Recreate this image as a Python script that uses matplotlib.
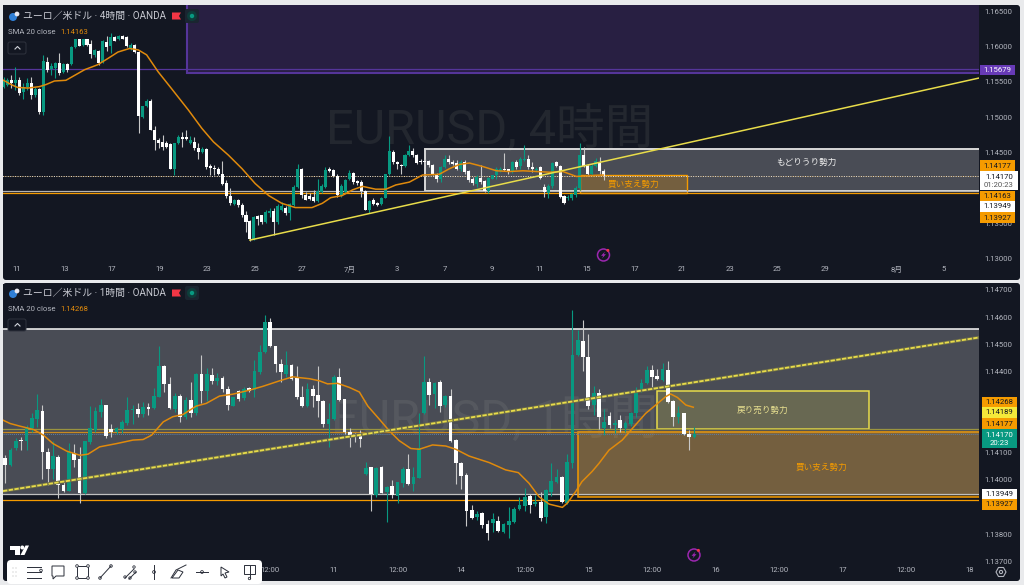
import matplotlib
matplotlib.use('Agg')
import matplotlib.pyplot as plt
from matplotlib.patches import Rectangle, Circle, FancyBboxPatch, Polygon

plt.rcParams['font.family'] = ['Roboto', 'Noto Sans CJK JP', 'DejaVu Sans']

# 4h chart candles
top_open = [1.1542,1.1545,1.1553,1.1548,1.1553,1.1536,1.1542,1.1548,1.1531,1.1539,
    1.1507,1.1578,1.1568,1.1569,1.1577,1.1564,1.1575,1.1575,1.1599,1.1610,
    1.1602,1.1610,1.1603,1.1588,1.1594,1.1578,1.1606,1.1600,1.1613,1.1610,
    1.1615,1.1613,1.1597,1.1602,1.1592,1.1500,1.1515,1.1523,1.1482,1.1468,
    1.1465,1.1464,1.1462,1.1427,1.1463,1.1472,1.1472,1.1464,1.1465,1.1456,
    1.1450,1.1455,1.1431,1.1428,1.1427,1.1420,1.1407,1.1388,1.1377,1.1382,
    1.1375,1.1362,1.1353,1.1327,1.1360,1.1361,1.1352,1.1364,1.1367,1.1352,
    1.1369,1.1372,1.1364,1.1375,1.1401,1.1427,1.1390,1.1389,1.1387,1.1381,
    1.1394,1.1401,1.1426,1.1425,1.1416,1.1390,1.1394,1.1413,1.1421,1.1409,
    1.1408,1.1396,1.1369,1.1382,1.1378,1.1377,1.1386,1.1419,1.1451,1.1437,
    1.1432,1.1431,1.1446,1.1452,1.1446,1.1438,1.1438,1.1438,1.1432,1.1420,
    1.1412,1.1430,1.1441,1.1437,1.1435,1.1426,1.1436,1.1424,1.1412,1.1406,
    1.1414,1.1409,1.1396,1.1413,1.1418,1.1424,1.1426,1.1426,1.1424,1.1436,
    1.1431,1.1439,1.1441,1.1430,1.1425,1.1430,1.1401,1.1393,1.1402,1.1436,
    1.1431,1.1388,1.1385,1.1385,1.1390,1.1399,1.1446,1.1431,1.1420,1.1431,1.1437,1.1424]
top_high = [1.1557,1.1555,1.1559,1.1571,1.1557,1.1548,1.1555,1.1556,1.1543,1.1541,
    1.1588,1.1585,1.1576,1.1578,1.1590,1.1577,1.1577,1.1600,1.1611,1.1611,
    1.1611,1.1611,1.1609,1.1596,1.1595,1.1609,1.1614,1.1619,1.1615,1.1616,
    1.1616,1.1615,1.1605,1.1604,1.1593,1.1516,1.1526,1.1526,1.1487,1.1470,
    1.1474,1.1466,1.1463,1.1464,1.1475,1.1479,1.1481,1.1473,1.1472,1.1463,
    1.1458,1.1456,1.1434,1.1432,1.1430,1.1438,1.1411,1.1399,1.1384,1.1384,
    1.1378,1.1367,1.1354,1.1360,1.1361,1.1362,1.1368,1.1371,1.1371,1.1377,
    1.1380,1.1374,1.1379,1.1404,1.1433,1.1428,1.1394,1.1392,1.1397,1.1413,
    1.1406,1.1430,1.1430,1.1427,1.1420,1.1406,1.1413,1.1425,1.1422,1.1411,
    1.1411,1.1397,1.1382,1.1385,1.1380,1.1387,1.1420,1.1473,1.1454,1.1438,
    1.1434,1.1448,1.1461,1.1456,1.1448,1.1441,1.1440,1.1439,1.1433,1.1421,
    1.1431,1.1446,1.1446,1.1439,1.1439,1.1439,1.1439,1.1425,1.1415,1.1418,
    1.1432,1.1411,1.1415,1.1418,1.1430,1.1429,1.1449,1.1427,1.1438,1.1439,
    1.1444,1.1460,1.1446,1.1437,1.1430,1.1431,1.1406,1.1406,1.1436,1.1438,
    1.1432,1.1390,1.1390,1.1393,1.1402,1.1463,1.1458,1.1434,1.1433,1.1442,1.1443,1.1427]
top_low = [1.1541,1.1544,1.1541,1.1538,1.1531,1.1526,1.1538,1.1526,1.1529,1.1505,
    1.1503,1.1564,1.1559,1.1555,1.1559,1.1562,1.1564,1.1574,1.1597,1.1600,
    1.1601,1.1600,1.1583,1.1585,1.1574,1.1576,1.1593,1.1590,1.1607,1.1609,
    1.1610,1.1599,1.1595,1.1590,1.1478,1.1499,1.1514,1.1481,1.1453,1.1456,
    1.1453,1.1456,1.1427,1.1418,1.1462,1.1458,1.1467,1.1462,1.1453,1.1441,
    1.1449,1.1427,1.1418,1.1418,1.1418,1.1404,1.1385,1.1375,1.1375,1.1373,
    1.1359,1.1338,1.1325,1.1326,1.1347,1.1349,1.1350,1.1359,1.1333,1.1349,
    1.1367,1.1361,1.1354,1.1374,1.1399,1.1385,1.1382,1.1382,1.1380,1.1380,
    1.1393,1.1400,1.1422,1.1415,1.1387,1.1387,1.1392,1.1411,1.1406,1.1404,
    1.1387,1.1368,1.1364,1.1375,1.1374,1.1375,1.1385,1.1418,1.1434,1.1427,
    1.1420,1.1429,1.1445,1.1444,1.1433,1.1433,1.1434,1.1430,1.1418,1.1408,
    1.1408,1.1428,1.1434,1.1432,1.1425,1.1424,1.1420,1.1408,1.1404,1.1401,
    1.1406,1.1394,1.1392,1.1412,1.1413,1.1422,1.1424,1.1420,1.1421,1.1426,
    1.1427,1.1438,1.1427,1.1423,1.1424,1.1412,1.1387,1.1385,1.1400,1.1430,
    1.1385,1.1377,1.1383,1.1382,1.1387,1.1397,1.1429,1.1416,1.1418,1.1430,1.1420,1.1411]
top_close = [1.1552,1.1553,1.1548,1.1552,1.1534,1.1542,1.1548,1.1531,1.1540,1.1507,
    1.1579,1.1567,1.1572,1.1576,1.1562,1.1575,1.1566,1.1599,1.1610,1.1601,
    1.1610,1.1602,1.1589,1.1595,1.1577,1.1607,1.1599,1.1613,1.1608,1.1614,
    1.1611,1.1601,1.1602,1.1592,1.1501,1.1515,1.1523,1.1482,1.1468,1.1464,
    1.1457,1.1458,1.1427,1.1463,1.1472,1.1469,1.1469,1.1467,1.1456,1.1450,
    1.1455,1.1430,1.1428,1.1426,1.1419,1.1406,1.1388,1.1378,1.1382,1.1375,
    1.1362,1.1352,1.1327,1.1359,1.1356,1.1352,1.1366,1.1367,1.1352,1.1374,
    1.1374,1.1364,1.1377,1.1401,1.1427,1.1390,1.1383,1.1384,1.1381,1.1396,
    1.1402,1.1425,1.1424,1.1416,1.1390,1.1402,1.1411,1.1421,1.1408,1.1407,
    1.1396,1.1369,1.1381,1.1377,1.1376,1.1386,1.1419,1.1452,1.1437,1.1434,
    1.1431,1.1446,1.1452,1.1446,1.1435,1.1436,1.1437,1.1432,1.1419,1.1412,
    1.1430,1.1440,1.1437,1.1434,1.1426,1.1437,1.1423,1.1411,1.1407,1.1415,
    1.1408,1.1396,1.1414,1.1418,1.1426,1.1426,1.1425,1.1423,1.1436,1.1429,
    1.1440,1.1441,1.1430,1.1427,1.1427,1.1414,1.1394,1.1403,1.1435,1.1431,
    1.1387,1.1379,1.1387,1.1391,1.1399,1.1446,1.1431,1.1419,1.1431,1.1438,1.1424,1.1417]

# 4h SMA, read at these bar numbers
top_sma_bar = [0,1.9,3.5,6.1,9,10.7,12.8,15.7,17.9,20.4,23.7,26.3,28.8,31.7,33.9,36,38.9,42.3,46.5,49.9,
    52.8,56.6,60,63.3,66.7,70,73.4,77.6,80.2,82.3,85.2,87.8,90.3,93.6,96.2,98.7,102.1,105.4,109.6,
    112.2,114.7,117.2,120.6,124,127.3,130.7,134,137.4,140.7,144.1,150.9]
top_sma = [1.1552,1.1546,1.1542,1.1541,1.1543,1.1546,1.1551,1.1552,1.1559,1.1567,1.1574,1.1583,1.1592,1.1597,1.1595,1.1588,1.1564,1.1540,1.1510,1.1484,
    1.1465,1.1446,1.1427,1.1406,1.1389,1.1378,1.1372,1.1372,1.1378,1.1386,1.1389,1.1397,1.1402,1.1398,1.1398,1.1404,1.1408,1.1418,1.1419,
    1.1427,1.1433,1.1435,1.1430,1.1424,1.1423,1.1424,1.1423,1.1422,1.1423,1.1416,1.1418]

top_tick_bars = [3.4,15.5,27.3,39.4,51.2,63.3,75.1,87.2,99,111.1,122.9,135,146.8,158.9,170.7,182.8,194.6,206.7,224.8,236.4]
top_tick_labels = ['11','13','17','19','23','25','27','7月','3','7','9','11','15','17','21','23','25','29','8月','5']
top_prices = [1.165,1.16,1.155,1.15,1.145,1.135,1.13]

# 1h chart candles
bot_open = [1.14081,1.14054,1.14116,1.14149,1.14143,1.14190,1.14223,1.14255,1.14102,1.14042,
    1.14085,1.13982,1.13960,1.14100,1.14078,1.13952,1.14140,1.14183,1.14252,1.14276,
    1.14188,1.14176,1.14188,1.14210,1.14257,1.14261,1.14242,1.14269,1.14266,1.14306,
    1.14419,1.14353,1.14263,1.14309,1.14233,1.14296,1.14245,1.14391,1.14328,1.14388,
    1.14365,1.14376,1.14336,1.14274,1.14326,1.14301,1.14337,1.14331,1.14398,1.14472,
    1.14582,1.14493,1.14429,1.14392,1.14422,1.14374,1.14304,1.14272,1.14334,1.14313,
    1.14292,1.14206,1.14223,1.14378,1.14297,1.14178,1.14168,1.14162,1.14021,1.14047,
    1.13945,1.14047,1.13954,1.13978,1.13941,1.13990,1.14040,1.13985,1.14008,1.14245,
    1.14360,1.14317,1.14360,1.14275,1.14309,1.14147,1.14064,1.14017,1.13889,1.13862,
    1.13880,1.13838,1.13843,1.13848,1.13808,1.13835,1.13846,1.13892,1.13905,1.13941,
    1.13910,1.13920,1.13862,1.13957,1.13994,1.14012,1.13914,1.14064,1.14460,1.14512,
    1.14452,1.14275,1.14319,1.14190,1.14236,1.14202,1.14221,1.14193,1.14205,1.14245,
    1.14329,1.14356,1.14405,1.14383,1.14368,1.14405,1.14290,1.14233,1.14245,1.14169,1.14157]
bot_high = [1.14091,1.14116,1.14153,1.14159,1.14202,1.14245,1.14316,1.14276,1.14116,1.14144,
    1.14091,1.13999,1.14137,1.14134,1.14122,1.14144,1.14272,1.14269,1.14300,1.14278,
    1.14205,1.14196,1.14220,1.14304,1.14276,1.14285,1.14288,1.14282,1.14337,1.14493,
    1.14423,1.14380,1.14319,1.14316,1.14306,1.14361,1.14395,1.14460,1.14411,1.14414,
    1.14395,1.14382,1.14345,1.14306,1.14331,1.14341,1.14343,1.14441,1.14496,1.14607,
    1.14595,1.14495,1.14444,1.14476,1.14427,1.14419,1.14346,1.14356,1.14350,1.14420,
    1.14295,1.14282,1.14387,1.14411,1.14300,1.14190,1.14174,1.14184,1.14067,1.14049,
    1.14047,1.14053,1.13978,1.14000,1.13994,1.14049,1.14096,1.14049,1.14248,1.14457,
    1.14374,1.14362,1.14368,1.14313,1.14334,1.14150,1.14067,1.14027,1.13908,1.13887,
    1.13883,1.13853,1.13880,1.13867,1.13843,1.13899,1.13899,1.13938,1.13969,1.13948,
    1.13945,1.13957,1.13965,1.14061,1.14039,1.14015,1.14096,1.14626,1.14552,1.14589,
    1.14538,1.14346,1.14334,1.14260,1.14252,1.14221,1.14239,1.14217,1.14252,1.14341,
    1.14371,1.14420,1.14424,1.14408,1.14430,1.14439,1.14295,1.14272,1.14248,1.14184,1.14194]
bot_low = [1.13987,1.14051,1.14112,1.14110,1.14110,1.14177,1.14196,1.14005,1.13981,1.14005,
    1.13932,1.13956,1.13958,1.14048,1.13914,1.13950,1.14134,1.14177,1.14233,1.14153,
    1.14159,1.14169,1.14174,1.14202,1.14208,1.14233,1.14233,1.14239,1.14263,1.14304,
    1.14325,1.14260,1.14251,1.14214,1.14226,1.14233,1.14239,1.14282,1.14291,1.14355,
    1.14349,1.14325,1.14257,1.14272,1.14291,1.14296,1.14325,1.14304,1.14392,1.14468,
    1.14490,1.14398,1.14361,1.14380,1.14368,1.14300,1.14268,1.14270,1.14268,1.14233,
    1.14196,1.14123,1.14221,1.14292,1.14169,1.14120,1.14141,1.14120,1.14018,1.13887,
    1.13938,1.13951,1.13846,1.13932,1.13914,1.13973,1.13981,1.13961,1.14006,1.14243,
    1.14276,1.14264,1.14252,1.14270,1.14141,1.13985,1.13967,1.13830,1.13855,1.13853,
    1.13822,1.13779,1.13810,1.13810,1.13806,1.13786,1.13843,1.13889,1.13887,1.13880,
    1.13904,1.13848,1.13843,1.13941,1.13990,1.13914,1.13911,1.14043,1.14457,1.14403,
    1.14260,1.14239,1.14187,1.14166,1.14190,1.14172,1.14178,1.14178,1.14199,1.14233,
    1.14325,1.14354,1.14338,1.14368,1.14366,1.14285,1.14199,1.14209,1.14167,1.14110,1.14155]
bot_close = [1.14054,1.14112,1.14144,1.14144,1.14196,1.14229,1.14257,1.14102,1.14041,1.14088,
    1.13982,1.13960,1.14104,1.14073,1.13952,1.14143,1.14190,1.14255,1.14277,1.14161,
    1.14176,1.14191,1.14215,1.14257,1.14263,1.14242,1.14269,1.14263,1.14309,1.14419,
    1.14355,1.14266,1.14311,1.14233,1.14296,1.14247,1.14392,1.14326,1.14390,1.14365,
    1.14375,1.14336,1.14276,1.14304,1.14299,1.14336,1.14328,1.14402,1.14472,1.14582,
    1.14493,1.14427,1.14397,1.14423,1.14373,1.14304,1.14272,1.14334,1.14309,1.14291,
    1.14205,1.14223,1.14378,1.14295,1.14178,1.14163,1.14159,1.14150,1.14045,1.13947,
    1.14045,1.13953,1.13975,1.13943,1.13991,1.14039,1.13985,1.14011,1.14116,1.14360,
    1.14313,1.14356,1.14272,1.14309,1.14145,1.14064,1.14016,1.13887,1.13861,1.13875,
    1.13833,1.13803,1.13855,1.13812,1.13838,1.13850,1.13893,1.13908,1.13936,1.13909,
    1.13920,1.13861,1.13963,1.13995,1.14010,1.13918,1.14066,1.14460,1.14516,1.14452,
    1.14272,1.14319,1.14233,1.14215,1.14202,1.14209,1.14193,1.14209,1.14248,1.14331,
    1.14358,1.14405,1.14381,1.14371,1.14408,1.14288,1.14233,1.14245,1.14169,1.14157,1.14170]

# 1h SMA, read at these bar numbers
bot_sma_bar = [-0.4,0.9,2.8,5.3,7.2,9,11.6,14.1,15.6,17.8,21,24.1,26,27.6,29.8,31.6,33.5,36,37.9,40.4,42.9,46.1,48.6,51.7,54.2,55.5,
    57.4,59.3,60.8,62.7,64.9,66.8,68.4,70.6,72.4,74.3,76.5,78.1,80.6,83.1,85,87.5,91.3,94.4,96.8,98.8,100.7,102.6,105.1,106,107.6,108.8,110.7,112,
    113.9,116.4,118.9,120.8,122.7,124.6,125.5,126.8,128.4,129.8]
bot_sma = [1.14220,1.14208,1.14198,1.14186,1.14165,1.14134,1.14106,1.14091,1.14095,1.14122,1.14134,1.14147,1.14149,1.14165,1.14214,1.14233,1.14241,1.14272,1.14282,1.14309,1.14316,1.14331,1.14345,1.14365,1.14380,1.14377,
    1.14373,1.14365,1.14354,1.14356,1.14341,1.14324,1.14272,1.14223,1.14182,1.14145,1.14116,1.14113,1.14129,1.14125,1.14113,1.14088,1.14064,1.14037,1.14027,1.13988,1.13938,1.13911,1.13899,1.13914,1.13957,1.13994,1.14031,1.14061,
    1.14110,1.14147,1.14203,1.14245,1.14276,1.14307,1.14317,1.14304,1.14276,1.14268]

bot_tick_bars = [50,62,74,86,98,110,122,134,146,158,170,182]
bot_tick_labels = ['12:00','11','12:00','14','12:00','15','12:00','16','12:00','17','12:00','18']
bot_prices = [1.147,1.146,1.145,1.144,1.141,1.14,1.138,1.137]

BG = '#131722'
GREEN = '#089981'
ORANGE = '#f59b00'
YELLOW = '#e8dc4a'
TEXT = '#b2b5be'
W, H = 1024, 585

fig = plt.figure(figsize=(W/100, H/100), dpi=100, facecolor='#e9eaec')


def px_axes(x0, y0, x1, y1, z):
    return fig.add_axes([x0/W, 1-y1/H, (x1-x0)/W, (y1-y0)/H], zorder=z)


def candles(ax, op, hi, lo, cl, width):
    for i in range(len(op)):
        up = cl[i] >= op[i]
        ax.vlines(i, lo[i], hi[i], color=GREEN if up else '#c8c8c8', lw=0.8, zorder=3)
        ax.bar(i, abs(cl[i]-op[i]), width, bottom=min(op[i], cl[i]), color=GREEN if up else 'white', lw=0, zorder=4)


def setup_axes(ax, prices, tick_bars, tick_labels):
    ax.set_facecolor(BG)
    for s in ax.spines.values():
        s.set_visible(False)
    ax.yaxis.tick_right()
    ax.set_yticks(prices)
    ax.set_yticklabels(['%.5f' % p for p in prices])
    ax.set_xticks(tick_bars)
    ax.set_xticklabels(tick_labels)
    ax.tick_params(axis='y', length=0, pad=4.2, labelsize=5.6, labelcolor=TEXT)
    ax.tick_params(axis='x', length=0, pad=3.2, labelsize=5.6, labelcolor=TEXT)


# panel backing
bg = px_axes(0, 0, W, H, 0)
bg.set_xlim(0, W)
bg.set_ylim(H, 0)
bg.axis('off')
bg.add_patch(FancyBboxPatch((3, 5), 1017, 275, boxstyle='round,pad=0,rounding_size=3', fc=BG, ec='none'))
bg.add_patch(FancyBboxPatch((3, 283), 1017, 298, boxstyle='round,pad=0,rounding_size=3', fc=BG, ec='none'))

# 4h panel
ax1 = px_axes(3, 5, 979, 262, 1)
setup_axes(ax1, top_prices, top_tick_bars, top_tick_labels)
ax1.set_xlim(-0.13, 245.4)
ax1.set_ylim(1.1295, 1.16585)
ax1.text(122.4, 1.1482, 'EURUSD, 4時間', fontsize=35, color='#23272f', ha='center', va='center', zorder=0.5)
ax1.add_patch(Rectangle((46.2, 1.1562), 200, 0.0100, fc='#281f42', ec='#55359a', lw=1.5, zorder=1))
ax1.hlines(1.15679, -1, 246, color='#55359a', lw=0.9, zorder=1.5)
ax1.add_patch(Rectangle((106, 1.13949), 140, 0.00601, fc='white', alpha=0.23, lw=0, zorder=1))
ax1.add_patch(Rectangle((106, 1.13949), 140, 0.00601, fc='none', ec='#d8d8d8', lw=1.4, zorder=1.4))
ax1.add_patch(Rectangle((145, 1.13927), 27, 0.0025, fc=ORANGE, alpha=0.25, ec='none', zorder=1.2))
ax1.add_patch(Rectangle((145, 1.13927), 27, 0.0025, fc='none', ec=ORANGE, lw=1, zorder=1.5))
ax1.hlines(1.13949, -1, 246, color='#b4b4b4', lw=0.9, zorder=1.6)
ax1.hlines(1.13927, -1, 246, color=ORANGE, lw=0.9, zorder=1.6)
ax1.hlines(1.14163, -1, 246, color='#b87a10', lw=0.5, linestyles=(0, (1, 1.5)), zorder=1.9)
ax1.hlines(1.1417, -1, 246, color='#e0e0e0', lw=0.7, linestyles=(0, (1, 1.5)), zorder=2)
candles(ax1, top_open, top_high, top_low, top_close, 0.76)
ax1.plot(top_sma_bar, top_sma, color='#e08a0c', lw=1.1, zorder=5)
ax1.plot([62, 245.4], [1.1326, 1.15552], color=YELLOW, lw=1.1, zorder=6)
ax1.text(158.5, 1.1405, '買い支え勢力', color=ORANGE, fontsize=6.2, ha='center', va='center', zorder=7)
ax1.text(202, 1.1436, 'もどりうり勢力', color='#f0f0f0', fontsize=6.2, ha='center', va='center', zorder=7)

# 1h panel
ax2 = px_axes(3, 284, 979, 563, 1)
setup_axes(ax2, bot_prices, bot_tick_bars, bot_tick_labels)
ax2.set_xlim(-0.434, 183.7)
ax2.set_ylim(1.13694, 1.14722)
ax2.text(92.4, 1.1422, 'EURUSD, 1時間', fontsize=35, color='#23272f', ha='center', va='center', zorder=0.5)
ax2.add_patch(Rectangle((-1, 1.13949), 186, 0.00607, fc='white', alpha=0.23, lw=0, zorder=1))
ax2.hlines(1.14556, -1, 185, color='#e8e8e8', lw=1.2, zorder=1.4)
ax2.hlines(1.13949, -1, 185, color='#c0c0c0', lw=0.9, zorder=1.4)
ax2.add_patch(Rectangle((108, 1.13936), 78, 0.00241, fc=ORANGE, alpha=0.25, ec='none', zorder=1.2))
ax2.add_patch(Rectangle((108, 1.13936), 78, 0.00241, fc='none', ec=ORANGE, lw=1.1, zorder=1.5))
ax2.add_patch(Rectangle((122.9, 1.14189), 40, 0.00137, fc=YELLOW, alpha=0.2, ec='none', zorder=1.2))
ax2.add_patch(Rectangle((122.9, 1.14189), 40, 0.00137, fc='none', ec=YELLOW, lw=1.1, zorder=1.5))
ax2.hlines(1.14189, -1, 185, color='#9a9440', lw=0.9, zorder=1.6)
ax2.hlines(1.14177, -1, 185, color='#c98a20', lw=0.9, zorder=1.6)
ax2.hlines(1.13927, -1, 185, color=ORANGE, lw=0.9, zorder=1.6)
ax2.hlines(1.1417, -1, 185, color='#5a7fa8', lw=0.7, linestyles=(0, (1, 1)), zorder=1.7)
candles(ax2, bot_open, bot_high, bot_low, bot_close, 0.7)
ax2.plot(bot_sma_bar, bot_sma, color='#e08a0c', lw=1.1, zorder=5)
ax2.plot([-0.434, 183.7], [1.13959, 1.14525], color='#6e6e48', lw=2.4, zorder=6)
ax2.plot([-0.434, 183.7], [1.13959, 1.14525], color=YELLOW, lw=1.3, linestyle=(0, (2.4, 0.8)), zorder=6.5)
ax2.text(154, 1.14048, '買い支え勢力', color=ORANGE, fontsize=6.2, ha='center', va='center', zorder=7)
ax2.text(142.8, 1.14256, '戻り売り勢力', color='#e8e090', fontsize=6.2, ha='center', va='center', zorder=7)

# everything around the plots, in screen pixels
ov = px_axes(0, 0, W, H, 5)
ov.set_xlim(0, W)
ov.set_ylim(H, 0)
ov.axis('off')
ov.patch.set_alpha(0)


def badge(y0, y1, fc, tc, label, sub=None, x0=980, x1=1015, subc=None):
    ov.add_patch(Rectangle((x0, y0), x1-x0, y1-y0, fc=fc, ec='none'))
    if sub is None:
        ov.text((x0+x1)/2, (y0+y1)/2, label, color=tc, fontsize=5.6, ha='center', va='center')
    else:
        ov.text((x0+x1)/2, y0+(y1-y0)*0.3, label, color=tc, fontsize=5.6, ha='center', va='center')
        ov.text((x0+x1)/2, y0+(y1-y0)*0.72, sub, color=subc, fontsize=5.6, ha='center', va='center')


badge(65, 75, '#673ab7', 'white', '1.15679')
badge(160, 171, ORANGE, '#131722', '1.14177')
badge(171, 190, 'white', '#131722', '1.14170', '01:20:23', x1=1018, subc='#555555')
badge(191, 201, ORANGE, '#131722', '1.14163')
badge(201, 212, 'white', '#131722', '1.13949')
badge(212, 223, ORANGE, '#131722', '1.13927')
badge(397, 407, ORANGE, '#131722', '1.14268', x0=982, x1=1017)
badge(407, 418, '#f5e93a', '#131722', '1.14189', x0=982, x1=1017)
badge(418, 429, ORANGE, '#131722', '1.14177', x0=982, x1=1017)
badge(429, 448, GREEN, 'white', '1.14170', '20:23', x0=982, x1=1017, subc='white')
badge(489, 499, 'white', '#131722', '1.13949', x0=982, x1=1017)
badge(499, 510, ORANGE, '#131722', '1.13927', x0=982, x1=1017)


def header(y, name, sma):
    ov.add_patch(Circle((13, y+1), 4, fc='#2f7fd6', ec='none'))
    ov.add_patch(Circle((17, y-2), 2.4, fc='#e8e8f0', ec='none'))
    ov.text(23, y, name, color='#c8cad2', fontsize=7.1, ha='left', va='center')
    ov.add_patch(Polygon([(172, y-3.5), (181, y-3.5), (179, y), (181, y+3.5), (172, y+3.5)], fc='#f23645', ec='none'))
    ov.add_patch(FancyBboxPatch((185, y-7), 14, 14, boxstyle='round,pad=0,rounding_size=2', fc='#1a2530', ec='none'))
    ov.add_patch(Circle((192, y), 5, fc='#0e3d3a', ec='none'))
    ov.add_patch(Circle((192, y), 2.2, fc=GREEN, ec='none'))
    ov.text(8, y+16, 'SMA 20 close', color=TEXT, fontsize=5.6, ha='left', va='center')
    ov.text(60, y+16, sma, color='#e08a0c', fontsize=5.6, ha='left', va='center')
    ov.add_patch(FancyBboxPatch((8, y+26), 18, 12, boxstyle='round,pad=0,rounding_size=2', fc=BG, ec='#2f333e', lw=0.7))
    ov.plot([15, 17.5, 20], [y+33, y+30.5, y+33], color='#d0d3da', lw=0.8)


header(16, 'ユーロ／米ドル · 4時間 · OANDA', '1.14163')
header(293, 'ユーロ／米ドル · 1時間 · OANDA', '1.14268')


def bolt(x, y):
    ov.add_patch(Circle((x, y), 6, fc=BG, ec='#9c27b0', lw=1.1))
    ov.add_patch(Polygon([(x+1.5, y-3.5), (x-2.5, y+0.8), (x-0.3, y+0.8), (x-1.5, y+3.5), (x+2.5, y-0.8), (x+0.3, y-0.8)],
                         fc='#9c27b0', ec='none'))
    ov.add_patch(Circle((x+4.4, y-4.6), 1.5, fc='#f23645', ec='none'))


bolt(603.5, 255)
bolt(694, 555)

# tradingview logo
ov.add_patch(Polygon([(10, 545.5), (20, 545.5), (20, 555), (15, 555), (15, 549.5), (10, 549.5)], fc='white', ec='none'))
ov.add_patch(Circle((22.3, 547.5), 2, fc='white', ec='none'))
ov.add_patch(Polygon([(25.5, 545.5), (29, 545.5), (24.5, 555), (20.5, 555)], fc='white', ec='none'))

# settings button
ov.add_patch(Polygon([(996, 572), (998.5, 567.5), (1003.5, 567.5), (1006, 572), (1003.5, 576.5), (998.5, 576.5)],
                     fc='none', ec=TEXT, lw=0.8))
ov.add_patch(Circle((1001, 572), 1.6, fc='none', ec=TEXT, lw=0.8))

# drawing toolbar
ov.add_patch(FancyBboxPatch((7, 560), 255, 24, boxstyle='round,pad=0,rounding_size=4', fc='white', ec='none'))
for dx in (13, 16):
    for dy in (568, 572, 576):
        ov.add_patch(Circle((dx, dy), 0.5, fc='#a8a8a8', ec='none'))
ik = '#2a2e39'
for yy in (566.5, 572, 577.5):
    ov.plot([27, 41], [yy, yy], color=ik, lw=0.7)
ov.add_patch(Circle((41, 570.5), 1.3, fc='white', ec=ik, lw=0.6))
ov.add_patch(Polygon([(52, 566), (64, 566), (64, 576), (56, 576), (53, 579), (53, 576), (52, 576)], fc='none', ec=ik, lw=0.7))
ov.add_patch(Rectangle((77, 566), 11, 12, fc='none', ec=ik, lw=0.7))
for cx, cy in ((77, 566), (88, 566), (77, 578), (88, 578)):
    ov.add_patch(Circle((cx, cy), 1.3, fc='white', ec=ik, lw=0.6))
ov.plot([100, 111], [578, 566], color=ik, lw=0.7)
ov.add_patch(Circle((111, 566), 1.3, fc='white', ec=ik, lw=0.6))
ov.add_patch(Circle((100, 578), 1.3, fc='white', ec=ik, lw=0.6))
ov.plot([125, 134], [578, 569], color=ik, lw=0.7)
ov.plot([129, 136], [579, 572], color=ik, lw=0.7)
for cx, cy in ((125, 577), (134, 567), (130, 578), (135, 572)):
    ov.add_patch(Circle((cx, cy), 1.2, fc='white', ec=ik, lw=0.6))
ov.plot([154, 154], [565, 579], color=ik, lw=0.7)
ov.add_patch(Circle((154, 572), 1.4, fc='white', ec=ik, lw=0.6))
ov.plot([171, 176, 180, 186], [578, 570, 568, 565], color=ik, lw=0.7)
ov.add_patch(Polygon([(172, 578), (179, 578), (183, 572), (178, 570)], fc='none', ec=ik, lw=0.7))
ov.plot([196, 208], [572, 572], color=ik, lw=0.7)
ov.add_patch(Circle((202, 572), 1.4, fc='white', ec=ik, lw=0.6))
ov.add_patch(Polygon([(221, 567), (229, 572), (225, 573), (227, 577), (225, 578), (223, 574), (221, 576)], fc='none', ec=ik, lw=0.7))
ov.add_patch(Rectangle((244, 565), 11, 9, fc='none', ec=ik, lw=0.7))
ov.plot([249.5, 249.5], [566, 578], color=ik, lw=0.7)
ov.add_patch(Circle((249.5, 578.5), 1.2, fc='white', ec=ik, lw=0.6))

fig.savefig('out.png', dpi=100, facecolor=fig.get_facecolor())
